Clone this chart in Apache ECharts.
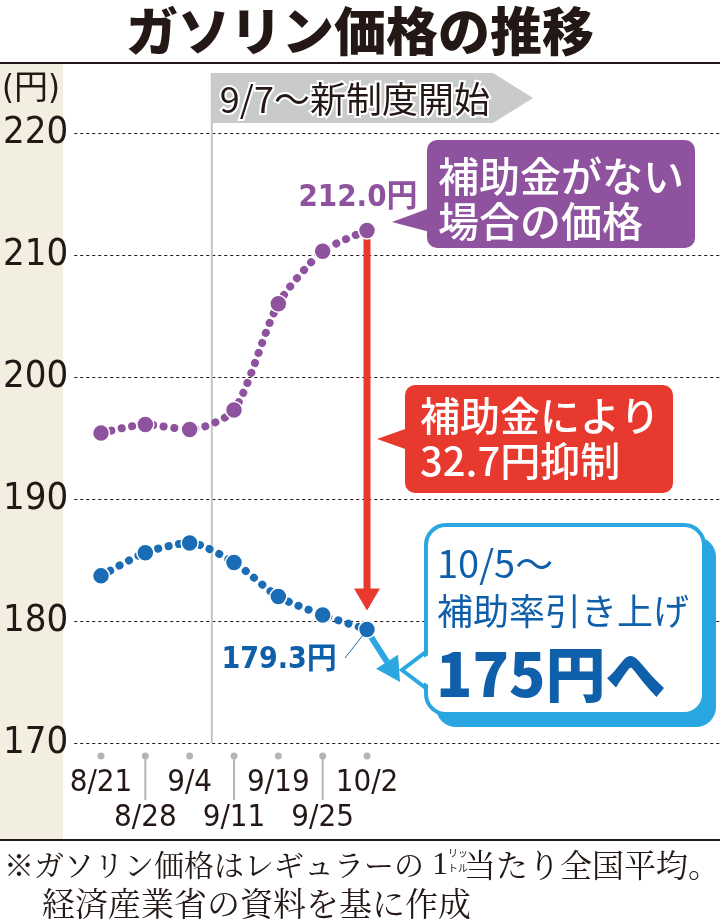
<!DOCTYPE html>
<html>
<head>
<meta charset="utf-8">
<script src="https://cdn.jsdelivr.net/npm/echarts@6/dist/echarts.min.js"></script>
<style>
  html, body { margin: 0; padding: 0; background: #fff; }
  #main { width: 720px; height: 919px; }
</style>
</head>
<body>
<div id="main"></div>
<script>
// ガソリン価格の推移 (円/L)
const dates = ['8/21', '8/28', '9/4', '9/11', '9/19', '9/25', '10/2']
const noSubsidy = [195.4, 196.1, 195.7, 197.3, 206.0, 210.3, 212.0]   // 補助金がない場合の価格
const actual = [183.7, 185.6, 186.4, 184.8, 182.0, 180.5, 179.3]      // 実際の価格
const yMin = 170, yMax = 220, yStep = 10
const newRuleBetween = [2, 3]   // 9/7 falls between 9/4 and 9/11

const INK = '#231815'
const PURPLE = '#8e529e'
const BLUE = '#1a6db4'
const DARKBLUE = '#0f5fab'
const LIGHTBLUE = '#2aa6e0'
const RED = '#e8392e'
const NARROW = "'Liberation Sans Narrow', 'DejaVu Sans Condensed', 'Noto Sans CJK JP', sans-serif"
const JP = "'Noto Sans CJK JP', sans-serif"

const last = dates.length - 1

const lineSeries = (vals, color, label) => ({
    type: 'line',
    xAxisIndex: 1,
    yAxisIndex: 1,
    smooth: 0.25,
    symbol: 'circle',
    symbolSize: 17,
    itemStyle: { color: color, borderColor: '#fff', borderWidth: 1.5 },
    lineStyle: { color: color, width: 8, type: [0.1, 10.5], cap: 'round' },
    data: vals.map((v, i) => i === last ? { value: v, label: label } : v),
    z: 3
})

let option = {
    animation: false,
    backgroundColor: '#fff',
    grid: [
        { left: 63, right: 0, top: 133, height: 610 },
        { left: 101, width: 266, top: 133, height: 610 }
    ],
    xAxis: [
        { gridIndex: 0, type: 'value', show: false },
        {
            gridIndex: 1,
            type: 'category',
            boundaryGap: false,
            data: dates,
            axisLine: { show: false },
            axisTick: { show: false },
            axisLabel: {
                interval: 0,
                hideOverlap: false,
                margin: 22,
                fontSize: 31,
                lineHeight: 35,
                fontFamily: NARROW,
                color: INK,
                formatter: (v, i) => i % 2 === 0 ? v : '\n' + v
            }
        }
    ],
    yAxis: [
        {
            gridIndex: 0,
            type: 'value',
            min: yMin,
            max: yMax,
            interval: yStep,
            axisLine: { show: false },
            axisTick: { show: false },
            axisLabel: { margin: 6, fontSize: 38, fontFamily: NARROW, color: INK },
            splitLine: { lineStyle: { color: INK, width: 1, type: [3, 3] } }
        },
        { gridIndex: 1, type: 'value', min: yMin, max: yMax, interval: yStep, show: false, splitLine: { show: false } }
    ],
    series: [
        lineSeries(noSubsidy, PURPLE, {
            show: true, position: 'top', distance: 8, offset: [-9, 0],
            formatter: p => p.value.toFixed(1) + '円',
            fontSize: 31, fontWeight: 'bold', fontFamily: NARROW, color: PURPLE
        }),
        lineSeries(actual, BLUE, {
            show: true, position: 'left', distance: 21, offset: [0, 31],
            formatter: p => p.value.toFixed(1) + '円',
            fontSize: 30, fontWeight: 'bold', fontFamily: NARROW, color: DARKBLUE
        })
    ]
}

let chart = echarts.init(document.getElementById('main'))
chart.setOption(option)

// positions from the chart's own scales
const pt = (s, i, v) => chart.convertToPixel({ seriesIndex: s }, [i, v])
const pTop = pt(0, last, noSubsidy[last])
const pBot = pt(1, last, actual[last])
const xs = dates.map((d, i) => pt(1, i, actual[i])[0])
const xRule = (xs[newRuleBetween[0]] + xs[newRuleBetween[1]]) / 2
const yBottom = chart.convertToPixel({ yAxisIndex: 0 }, yMin)

const txt = (x, y, text, size, color, extra) => Object.assign({
    type: 'text', x: x, y: y, z: 20,
    style: Object.assign({ text: text, fontSize: size, fontFamily: JP, fill: color, align: 'left', verticalAlign: 'middle' }, extra || {})
})

let g = []

// frame
g.push({ type: 'rect', z: -1, shape: { x: 0, y: 63, width: 63, height: 777 }, style: { fill: '#f3efe0' } })
g.push({ type: 'line', z: 5, shape: { x1: 0, y1: 63, x2: 720, y2: 63 }, style: { stroke: INK, lineWidth: 2 } })
g.push({ type: 'line', z: 5, shape: { x1: 0, y1: 840, x2: 720, y2: 840 }, style: { stroke: INK, lineWidth: 2 } })
g.push(txt(360, 31, 'ガソリン価格の推移', 52, INK, { align: 'center', fontWeight: 900 }))
g.push(txt(31, 90, '(円)', 34, INK, { align: 'center', fontFamily: NARROW }))

// x-axis dots and ticks
xs.forEach((x, i) => {
    if (i % 2 === 1) g.push({ type: 'line', z: 4, shape: { x1: x, y1: 756, x2: x, y2: 800 }, style: { stroke: '#b5b5b5', lineWidth: 2 } })
    g.push({ type: 'circle', z: 4, shape: { cx: x, cy: 756, r: 3.5 }, style: { fill: '#b5b5b5' } })
})

// 9/7 new rule
g.push({ type: 'line', z: 1, shape: { x1: xRule, y1: 73, x2: xRule, y2: yBottom }, style: { stroke: '#c4c4c4', lineWidth: 2 } })
g.push({ type: 'polygon', z: 6, shape: { points: [[xRule, 73], [493, 73], [533, 98], [493, 123], [xRule, 123]] }, style: { fill: '#c9caca' } })
g.push(txt(xRule + 8, 99, '9/7～新制度開始', 36, INK, { stroke: '#fff', lineWidth: 4 }))

// purple callout
g.push({ type: 'polygon', z: 6, shape: { points: [[430, 208], [392, 222], [430, 232]] }, style: { fill: PURPLE } })
g.push({ type: 'rect', z: 6, shape: { x: 427, y: 140, width: 268, height: 108, r: 10 }, style: { fill: PURPLE } })
g.push(txt(438, 176, '補助金がない', 41, '#fff', { fontWeight: 500 }))
g.push(txt(438, 221, '場合の価格', 41, '#fff', { fontWeight: 500 }))

// red arrow
const tipY = pBot[1] - 19
g.push({ type: 'line', z: 1, shape: { x1: pTop[0], y1: pTop[1], x2: pTop[0], y2: tipY - 18 }, style: { stroke: RED, lineWidth: 7 } })
g.push({ type: 'polygon', z: 1, shape: { points: [[pTop[0] - 13, tipY - 22], [pTop[0] + 13, tipY - 22], [pTop[0], tipY]] }, style: { fill: RED } })

// red callout
g.push({ type: 'polygon', z: 6, shape: { points: [[408, 428], [377, 439], [408, 450]] }, style: { fill: RED } })
g.push({ type: 'rect', z: 6, shape: { x: 405, y: 385, width: 268, height: 108, r: 10 }, style: { fill: RED } })
g.push(txt(420, 416, '補助金により', 40, '#fff', { fontWeight: 500 }))
g.push(txt(420, 461, '32.7円抑制', 40, '#fff', { fontWeight: 500 }))

// light blue arrow
const ax = pBot[0] + 2, ay = pBot[1] + 4
const tx = 400, ty = 682
const dx = tx - ax, dy = ty - ay, len = Math.sqrt(dx * dx + dy * dy)
const ux = dx / len, uy = dy / len
const bx = tx - ux * 24, by = ty - uy * 24
g.push({ type: 'line', z: 1, shape: { x1: ax, y1: ay, x2: bx, y2: by }, style: { stroke: LIGHTBLUE, lineWidth: 6 } })
g.push({ type: 'polygon', z: 1, shape: { points: [[bx - uy * 13, by + ux * 13], [bx + uy * 13, by - ux * 13], [tx, ty]] }, style: { fill: LIGHTBLUE } })

// leader for 179.3円
g.push({ type: 'line', z: 4, shape: { x1: 345, y1: 658, x2: pBot[0] - 2, y2: pBot[1] + 3 }, style: { stroke: BLUE, lineWidth: 1 } })

// blue callout
g.push({ type: 'rect', z: 6, shape: { x: 436, y: 537, width: 280, height: 190, r: 20 }, style: { fill: LIGHTBLUE } })
g.push({ type: 'rect', z: 6, shape: { x: 426, y: 525, width: 278, height: 189, r: 20 }, style: { fill: '#fff', stroke: LIGHTBLUE, lineWidth: 4 } })
g.push({ type: 'polygon', z: 6, shape: { points: [[434, 652], [402, 670], [434, 688]] }, style: { fill: '#fff' } })
g.push({ type: 'polyline', z: 6, shape: { points: [[427, 651], [402, 670], [427, 689]] }, style: { stroke: LIGHTBLUE, lineWidth: 4, fill: null } })
g.push(txt(437, 564, '10/5～', 38, DARKBLUE))
g.push(txt(437, 611, '補助率引き上げ', 36, DARKBLUE))
g.push(txt(436, 674, '175円へ', 60, DARKBLUE, { fontWeight: 900 }))

// footnote
g.push(txt(4, 865, '※ガソリン価格はレギュラーの', 30, INK, { fontFamily: "'Noto Serif CJK JP', " + JP }))
g.push(txt(432, 866, '1', 32, INK, { fontFamily: "'Liberation Serif', serif" }))
g.push(txt(448, 853, 'リッ', 10, INK))
g.push(txt(448, 868, 'トル', 10, INK))
g.push(txt(464, 865, '当たり全国平均。', 32, INK, { fontFamily: "'Noto Serif CJK JP', " + JP }))
g.push(txt(42, 903, '経済産業省の資料を基に作成', 33, INK, { fontFamily: "'Noto Serif CJK JP', " + JP }))

chart.setOption({ graphic: g })
</script>
</body>
</html>
